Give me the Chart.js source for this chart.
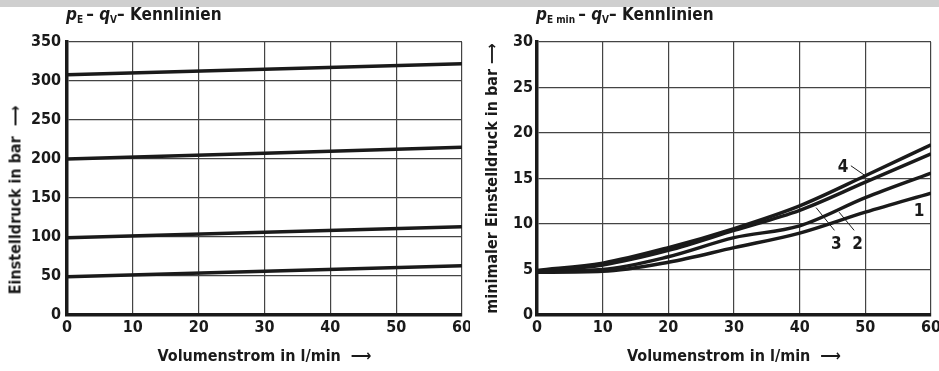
<!DOCTYPE html>
<html>
<head>
<meta charset="utf-8">
<script src="https://cdn.jsdelivr.net/npm/chart.js@4.4.1/dist/chart.umd.min.js"></script>
<style>
  body { margin: 0; background: #fff; width: 939px; height: 371px; overflow: hidden; position: relative; }
  #band { position: absolute; left: 0; top: 0; width: 939px; height: 7px; background: #cfcfcf; z-index: 2; }
  canvas { position: absolute; top: 0; }
  .txt { position: absolute; font-family: 'DejaVu Sans Condensed', 'Liberation Sans Narrow', 'Liberation Sans', sans-serif;
         font-weight: bold; color: #1a1a1a; white-space: nowrap; }
  .ttl { top: 4px; font-size: 17px; }
  .ttl sub { font-size: 10px; vertical-align: -3px; }
  .ytitel { font-size: 16px; transform: translate(-50%, -50%) rotate(-90deg); }
</style>
</head>
<body>
<div id="band"></div>
<canvas id="c1" width="470" height="371" style="left:0"></canvas>
<canvas id="c2" width="469" height="371" style="left:470px"></canvas>
<div class="txt ttl" style="left:66px"><i>p</i><sub>E</sub>&thinsp;– <i>q</i><sub>V</sub>– Kennlinien</div>
<div class="txt ttl" style="left:536px"><i>p</i><sub>E min</sub>&thinsp;– <i>q</i><sub>V</sub>– Kennlinien</div>
<div class="txt ytitel" style="left:15px; top:200px">Einstelldruck in bar &nbsp;⟶</div>
<script>
// Daten links: p_E – q_V (gerade Kennlinien)
const qLinks = [0, 60];
const pE300 = [308, 322];
const pE200 = [200, 215];
const pE100 = [99, 113];
const pE50 = [49, 63];

// Daten rechts: p_E min – q_V
const qRechts = [0, 10, 20, 30, 40, 50, 60];
const kurve1 = [4.7, 4.8, 5.8, 7.4, 9.0, 11.3, 13.4];
const kurve2 = [4.8, 5.0, 6.4, 8.5, 9.8, 12.9, 15.6];
const kurve3 = [4.8, 5.5, 7.1, 9.3, 11.5, 14.6, 17.7];
const kurve4 = [4.9, 5.7, 7.4, 9.5, 12.0, 15.3, 18.7];

// Beschriftung der Kurven (Position in Datenwerten)
const kurvenNamen = ['1', '2', '3', '4'];
const namenX = [58.2, 48.8, 45.6, 46.6];
const namenY = [11.4, 7.7, 7.7, 16.2];
const hinweisVon = [null, [48.3, 9.3], [45.3, 9.3], [47.8, 16.4]];
const hinweisBis = [null, [46.0, 11.3], [42.5, 11.8], [50.0, 15.3]];

const FONT = "'DejaVu Sans Condensed', 'Liberation Sans Narrow', 'Liberation Sans', sans-serif";
const INK = '#1a1a1a';

function linie(data) {
    return { data: data, borderColor: INK, borderWidth: 3.5, pointRadius: 0, fill: false,
             cubicInterpolationMode: 'monotone' };
}

function optionen(yMax, step, yTitel, titelAbstand, tickAbstand) {
    return {
        responsive: false,
        animation: false,
        devicePixelRatio: 1,
        layout: { padding: { left: 0, right: 8, top: 42, bottom: 0 } },
        plugins: { legend: { display: false }, tooltip: { enabled: false } },
        scales: {
            x: {
                type: 'linear', min: 0, max: 60,
                afterFit: s => { s.height = 56; s.paddingLeft = 0; s.paddingRight = 0; },
                ticks: { stepSize: 10, padding: 3, color: INK, font: { family: FONT, size: 16, weight: 'bold' } },
                grid: { color: '#444', lineWidth: 1.2, drawTicks: false },
                border: { color: INK, width: 3.5 },
                title: { display: true, text: 'Volumenstrom in l/min  \u27F6', color: INK,
                         padding: { top: 0, bottom: 5 }, font: { family: FONT, size: 16, weight: 'bold' } }
            },
            y: {
                type: 'linear', min: 0, max: yMax,
                afterFit: s => { s.width = 67; s.paddingTop = 0; s.paddingBottom = 0; },
                ticks: { stepSize: step, padding: tickAbstand, color: INK, font: { family: FONT, size: 16, weight: 'bold' } },
                grid: { color: '#444', lineWidth: 1.2, drawTicks: false },
                border: { color: INK, width: 3.5 },
                title: { display: !!yTitel, text: yTitel, color: INK,
                         padding: { top: titelAbstand, bottom: 0 }, font: { family: FONT, size: 16, weight: 'bold' } }
            }
        }
    };
}

// Kurvennummern und Hinweislinien
const kurvenLabels = {
    id: 'kurvenLabels',
    afterDatasetsDraw(chart) {
        const ctx = chart.ctx, xs = chart.scales.x, ys = chart.scales.y;
        ctx.save();
        ctx.strokeStyle = INK;
        ctx.lineWidth = 1;
        hinweisVon.forEach((von, i) => {
            if (!von) return;
            const bis = hinweisBis[i];
            ctx.beginPath();
            ctx.moveTo(xs.getPixelForValue(von[0]), ys.getPixelForValue(von[1]));
            ctx.lineTo(xs.getPixelForValue(bis[0]), ys.getPixelForValue(bis[1]));
            ctx.stroke();
        });
        ctx.fillStyle = INK;
        ctx.font = 'bold 17px ' + FONT;
        ctx.textAlign = 'center';
        ctx.textBaseline = 'middle';
        kurvenNamen.forEach((n, i) => {
            ctx.fillText(n, xs.getPixelForValue(namenX[i]), ys.getPixelForValue(namenY[i]));
        });
        ctx.restore();
    }
};

new Chart(document.getElementById('c1'), {
    type: 'line',
    data: {
        labels: qLinks,
        datasets: [pE300, pE200, pE100, pE50].map(d => linie(qLinks.map((q, i) => ({ x: q, y: d[i] }))))
    },
    options: optionen(350, 50, '', 0, 6)
});

new Chart(document.getElementById('c2'), {
    type: 'line',
    data: {
        labels: qRechts,
        datasets: [kurve1, kurve2, kurve3, kurve4].map(d => linie(qRechts.map((q, i) => ({ x: q, y: d[i] }))))
    },
    options: optionen(30, 5, 'minimaler Einstelldruck in bar \u27F6', 13, 4),
    plugins: [kurvenLabels]
});
</script>
</body>
</html>
